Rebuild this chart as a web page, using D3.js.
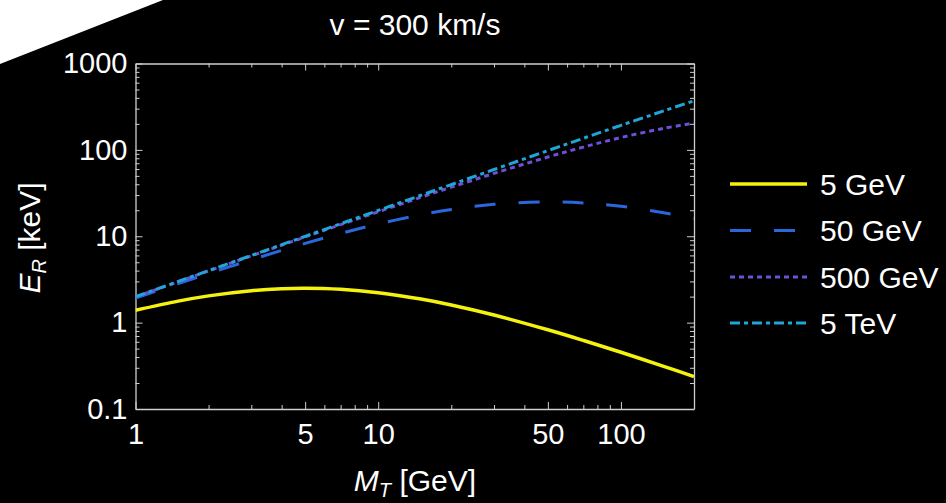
<!DOCTYPE html>
<html>
<head>
<meta charset="utf-8">
<script src="https://cdn.jsdelivr.net/npm/d3@7"></script>
<style>
  html, body { margin: 0; padding: 0; background: #000; }
  svg { display: block; }
  text { font-family: "Liberation Sans", Arial, Helvetica, sans-serif; fill: #fff; }
</style>
</head>
<body>
<svg id="chart" width="946" height="503"></svg>
<script>
// Target mass M_T in GeV (sample points along the x axis)
const massT = [1, 1.5, 2, 3, 4, 5, 7, 10, 15, 20, 30, 50, 70, 100, 150, 200];

// Maximum recoil energy E_R in keV for each dark-matter mass
const er5GeV   = [1.389, 1.775, 2.041, 2.344, 2.469, 2.500, 2.431, 2.222, 1.875, 1.600, 1.224, 0.826, 0.622, 0.4535, 0.3122, 0.238];
const er50GeV  = [1.922, 2.828, 3.698, 5.340, 6.859, 8.264, 10.77, 13.89, 17.75, 20.41, 23.44, 25.00, 24.31, 22.22, 18.75, 16.00];
const er500GeV = [1.992, 2.973, 3.968, 5.929, 7.874, 9.803, 13.62, 19.22, 28.28, 36.98, 53.40, 82.64, 107.7, 138.9, 177.5, 204.1];
const er5TeV   = [1.999, 2.998, 3.997, 5.993, 7.987, 9.980, 13.96, 19.92, 29.82, 39.68, 59.29, 98.03, 136.2, 192.2, 282.8, 369.8];

const seriesNames = ["5 GeV", "50 GeV", "500 GeV", "5 TeV"];
const seriesValues = [er5GeV, er50GeV, er500GeV, er5TeV];

// Labelled ticks
const xTickLabels = [1, 5, 10, 50, 100];
const yTickLabels = [0.1, 1, 10, 100, 1000];

const titleText = "v = 300 km/s";

// ---- styling ----
const colors = ["#f4f20e", "#2a66dc", "#6e4fd8", "#1fa6d6"];
const widths = [3.5, 3, 3, 3];
const dashes = [null, "21,23", "5,4", "10,4,4,4"];

const svg = d3.select("#chart");
const plot = { left: 135.5, right: 694, top: 63.5, bottom: 409 };

// white corner wedge in the top-left
svg.append("polygon")
  .attr("points", `0,0 163,0 0,64`)
  .attr("fill", "#fff");

const x = d3.scaleLog().domain([1, 200]).range([plot.left, plot.right]);
const y = d3.scaleLog().domain([0.1, 1000]).range([plot.bottom, plot.top]);

const fmt = d => (d < 1 ? d3.format(".1f")(d) : d3.format("d")(d));

// all log ticks (major + minor)
const xAll = x.ticks().filter(d => d >= 1 && d <= 200);
const yAll = y.ticks();
const isMajorY = d => yTickLabels.some(v => Math.abs(v - d) / v < 1e-6);
const isMajorX = d => xTickLabels.some(v => Math.abs(v - d) / v < 1e-6);

function drawAxis(axisGen, transform, isMajor, orient) {
  const g = svg.append("g").attr("transform", transform).call(axisGen);
  g.select(".domain").attr("stroke", "#cfcfcf").attr("stroke-width", 1.3);
  g.selectAll(".tick line")
    .attr("stroke", "#cfcfcf").attr("stroke-width", 1)
    .each(function (d) {
      const len = isMajor(d) ? 7 : 4;
      const el = d3.select(this);
      if (orient === "bottom") el.attr("y2", -len);
      if (orient === "top") el.attr("y2", len);
      if (orient === "left") el.attr("x2", len);
      if (orient === "right") el.attr("x2", -len);
    });
  return g;
}

// bottom axis with labels
const gx = drawAxis(
  d3.axisBottom(x).tickValues(xAll).tickSizeOuter(0).tickPadding(3)
    .tickFormat(d => (isMajorX(d) ? fmt(d) : "")),
  `translate(0,${plot.bottom})`, isMajorX, "bottom");
gx.selectAll(".tick text")
  .attr("font-size", 29).attr("fill", "#fff").attr("dy", "0.9em")
  .attr("font-family", "Liberation Sans, Arial, sans-serif");

// top axis
drawAxis(d3.axisTop(x).tickValues(xAll).tickSizeOuter(0).tickFormat(""),
  `translate(0,${plot.top})`, isMajorX, "top");

// left axis with labels
const gy = drawAxis(
  d3.axisLeft(y).tickValues(yAll).tickSizeOuter(0).tickPadding(2)
    .tickFormat(d => (isMajorY(d) ? fmt(d) : "")),
  `translate(${plot.left},0)`, isMajorY, "left");
gy.selectAll(".tick text")
  .attr("font-size", 29).attr("fill", "#fff")
  .attr("font-family", "Liberation Sans, Arial, sans-serif");

// right axis
drawAxis(d3.axisRight(y).tickValues(yAll).tickSizeOuter(0).tickFormat(""),
  `translate(${plot.right},0)`, isMajorY, "right");

// curves
svg.append("defs").append("clipPath").attr("id", "plotclip")
  .append("rect")
  .attr("x", plot.left).attr("y", plot.top)
  .attr("width", plot.right - plot.left).attr("height", plot.bottom - plot.top);

const line = d3.line()
  .x(d => x(d[0]))
  .y(d => y(d[1]))
  .curve(d3.curveCatmullRom.alpha(0.5));

const curves = svg.append("g").attr("clip-path", "url(#plotclip)");
seriesValues.forEach((vals, i) => {
  curves.append("path")
    .datum(massT.map((m, k) => [m, vals[k]]))
    .attr("d", line)
    .attr("fill", "none")
    .attr("stroke", colors[i])
    .attr("stroke-width", widths[i])
    .attr("stroke-dasharray", dashes[i]);
});

// title
svg.append("text")
  .attr("x", 415).attr("y", 35)
  .attr("text-anchor", "middle")
  .attr("font-size", 30)
  .text(titleText);

// x axis label: M_T [GeV]
const xl = svg.append("text")
  .attr("x", 415).attr("y", 491)
  .attr("text-anchor", "middle")
  .attr("font-size", 30);
xl.append("tspan").attr("font-style", "italic").text("M");
xl.append("tspan").attr("font-style", "italic").attr("font-size", 20).attr("dy", 6).text("T");
xl.append("tspan").attr("dy", -6).text(" [GeV]");

// y axis label: E_R [keV]
const yl = svg.append("text")
  .attr("transform", `translate(40,238) rotate(-90)`)
  .attr("text-anchor", "middle")
  .attr("font-size", 30);
yl.append("tspan").attr("font-style", "italic").text("E");
yl.append("tspan").attr("font-style", "italic").attr("font-size", 20).attr("dy", 6).text("R");
yl.append("tspan").attr("dy", -6).text(" [keV]");

// legend
const legendY = [184, 230.5, 277, 323];
const legend = svg.append("g");
seriesNames.forEach((name, i) => {
  legend.append("line")
    .attr("x1", 730).attr("x2", 807)
    .attr("y1", legendY[i]).attr("y2", legendY[i])
    .attr("stroke", colors[i])
    .attr("stroke-width", widths[i])
    .attr("stroke-dasharray", dashes[i]);
  legend.append("text")
    .attr("x", 820).attr("y", legendY[i])
    .attr("dy", "0.35em")
    .attr("font-size", 30)
    .text(name);
});
</script>
</body>
</html>
